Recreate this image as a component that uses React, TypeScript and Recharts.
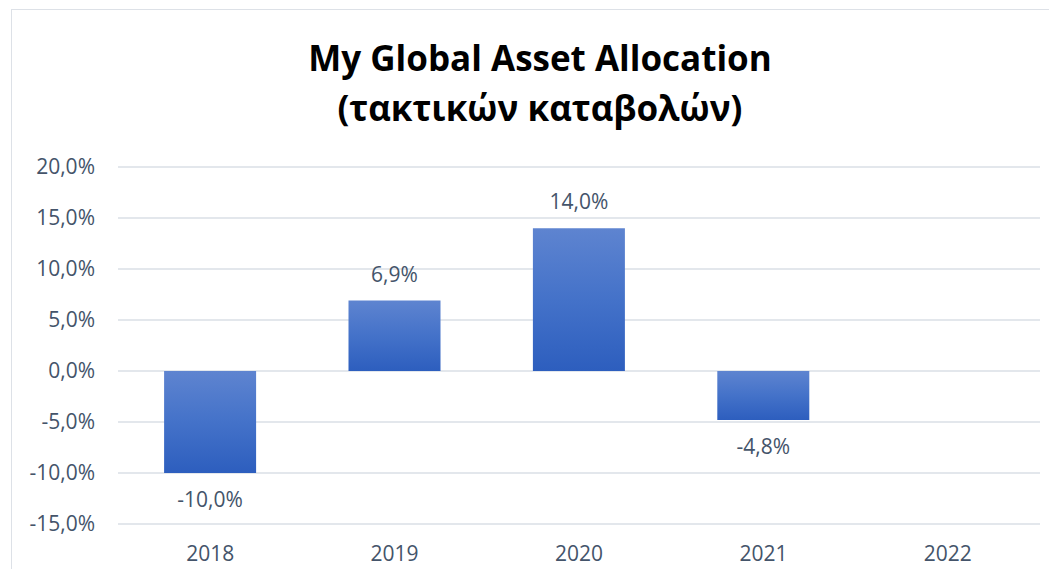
import { Bar, BarChart, CartesianGrid, LabelList, XAxis, YAxis } from "recharts";

const years = ["2018", "2019", "2020", "2021", "2022"];
const returns: (number | null)[] = [-10.0, 6.9, 14.0, -4.8, null];
const yTicks = [-15, -10, -5, 0, 5, 10, 15, 20];

const chartData = years.map((year, i) => ({ year, value: returns[i] }));

const fmt = (v: number) => v.toFixed(1).replace(".", ",") + "%";
const textColor = "#44546A";
const font = "'Open Sans', sans-serif";

function ValueLabel(props: any) {
  const { x, y, width, height, value } = props;
  if (value == null) return null;
  const top = Math.min(y, y + height);
  const bottom = Math.max(y, y + height);
  const cy = value >= 0 ? top - 27 : bottom + 26;
  return (
    <text x={x + width / 2} y={cy} textAnchor="middle" dominantBaseline="central"
      fill={textColor} fontSize={21} fontFamily={font}>
      {fmt(value)}
    </text>
  );
}

export default function App() {
  return (
    <div style={{ position: "relative", width: 1057, height: 577, margin: -8, overflow: "hidden", background: "#fff" }}>
      <div style={{ position: "absolute", left: 11, top: 9, width: 1100, height: 620, border: "1px solid #DDE1E7" }} />
      <div style={{ position: "absolute", left: 0, top: 33, width: 1080, textAlign: "center", fontFamily: font,
        fontWeight: 700, fontSize: 35, lineHeight: "50px", color: "#000" }}>
        My Global Asset Allocation<br />(τακτικών καταβολών)
      </div>
      <div style={{ position: "absolute", left: 0, top: 0 }}>
        <BarChart width={1057} height={577} data={chartData} barCategoryGap="25%"
          margin={{ top: 167, right: 17, bottom: 23, left: 0 }}>
          <defs>
            <linearGradient id="barGrad" x1="0" y1="0" x2="0" y2="1">
              <stop offset="0%" stopColor="#5E84D0" />
              <stop offset="50%" stopColor="#4472C9" />
              <stop offset="100%" stopColor="#2D5EBE" />
            </linearGradient>
          </defs>
          <CartesianGrid stroke="#DADFE6" strokeWidth={1.3} vertical={false} />
          <XAxis dataKey="year" axisLine={false} tickLine={false} tickSize={0} tickMargin={22} height={30}
            tick={{ fontSize: 21, fill: textColor, fontFamily: font }} />
          <YAxis domain={[-15, 20]} ticks={yTicks} tickFormatter={fmt} width={118} axisLine={false} tickLine={false}
            tickSize={0} tickMargin={23} interval={0} tick={{ fontSize: 21, fill: textColor, fontFamily: font }} />
          <Bar dataKey="value" fill="url(#barGrad)" isAnimationActive={false}>
            <LabelList dataKey="value" content={<ValueLabel />} />
          </Bar>
        </BarChart>
      </div>
    </div>
  );
}
